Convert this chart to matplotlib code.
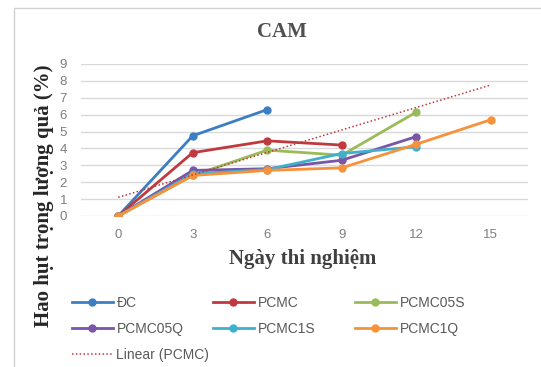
import numpy as np
import matplotlib
matplotlib.use("Agg")
import matplotlib.pyplot as plt
from matplotlib.patches import Rectangle

days = ["0", "3", "6", "9", "12", "15"]

dc = [0, 4.75, 6.3]
pcmc = [0, 3.75, 4.45, 4.2]
pcmc05s = [0, 2.4, 3.9, 3.6, 6.15]
pcmc05q = [0, 2.7, 2.8, 3.3, 4.7]
pcmc1s = [0, 2.5, 2.75, 3.7, 4.1]
pcmc1q = [0, 2.4, 2.7, 2.85, 4.25, 5.7]

names = ["ĐC", "PCMC", "PCMC05S", "PCMC05Q", "PCMC1S", "PCMC1Q"]
series = [dc, pcmc, pcmc05s, pcmc05q, pcmc1s, pcmc1q]
colors = ["#3C7DC4", "#C0393F", "#9BBB59", "#7A55A8", "#3FB0CC", "#F7923A"]

W, H = 541, 367
fig = plt.figure(figsize=(W / 100, H / 100), dpi=100)
ax = fig.add_axes([81 / W, 1 - 216 / H, 447 / W, 152 / H])

# chart border
fig.patches.append(Rectangle((14 / W, -0.05), 1.0, 1 - 8 / H + 0.05,
                             transform=fig.transFigure, fill=False,
                             edgecolor="#D0D0D0", linewidth=1))

handles = {}
for name, vals, c in zip(names, series, colors):
    x = np.arange(len(vals))
    h, = ax.plot(x, vals, color=c, lw=2.0, marker="o", markersize=5, zorder=3)
    handles[name] = h

# linear trendline of PCMC (Excel-style, extended forward)
xp = np.arange(len(pcmc))
k, b = np.polyfit(xp, pcmc, 1)
xt = np.arange(len(days))
tr, = ax.plot(xt, k * xt + b, color="#C0393F", lw=1.1, ls=(0, (1, 1.5)), zorder=4)
handles["Linear (PCMC)"] = tr

ax.set_xlim(-0.5, len(days) - 0.5)
ax.set_ylim(0, 9)
ax.set_xticks(range(len(days)))
ax.set_xticklabels(days)
ax.set_yticks(range(10))
ax.yaxis.grid(True, color="#D9D9D9", lw=1)
ax.set_axisbelow(True)
for s in ax.spines.values():
    s.set_visible(False)
ax.tick_params(length=0, labelsize=9.5, labelcolor="#7F7F7F")
ax.tick_params(axis="x", pad=9)
ax.tick_params(axis="y", pad=10)
for lab in ax.get_xticklabels() + ax.get_yticklabels():
    lab.set_family("Liberation Sans")

fig.text(282 / W, 1 - 32 / H, "CAM", ha="center", va="center",
         family="Liberation Serif", weight="bold", fontsize=15, color="#505050")
fig.text(303 / W, 1 - 259 / H, "Ngày thi nghiệm", ha="center", va="center",
         family="Liberation Serif", weight="bold", fontsize=15, color="#404040")
fig.text(44 / W, 1 - 196 / H, "Hao hụt trọng lượng quả (%)", ha="center",
         va="center", rotation=90, family="Liberation Serif", weight="bold",
         fontsize=15, color="#262626")

# legend: three fixed-position columns, like Excel
columns = [["ĐC", "PCMC05Q", "Linear (PCMC)"],
           ["PCMC", "PCMC1S"],
           ["PCMC05S", "PCMC1Q"]]
col_x = [72, 213, 355]
for names_col, cx in zip(columns, col_x):
    leg = fig.legend([handles[n] for n in names_col], names_col, loc="upper left",
                     bbox_to_anchor=(cx / W, 1 - 296 / H), frameon=False,
                     borderpad=0, borderaxespad=0,
                     handlelength=2.95, handletextpad=0.25, labelspacing=0.85,
                     prop={"family": "Liberation Sans", "size": 10})
    for t in leg.get_texts():
        t.set_color("#595959")

fig.savefig("out.png", dpi=100)
